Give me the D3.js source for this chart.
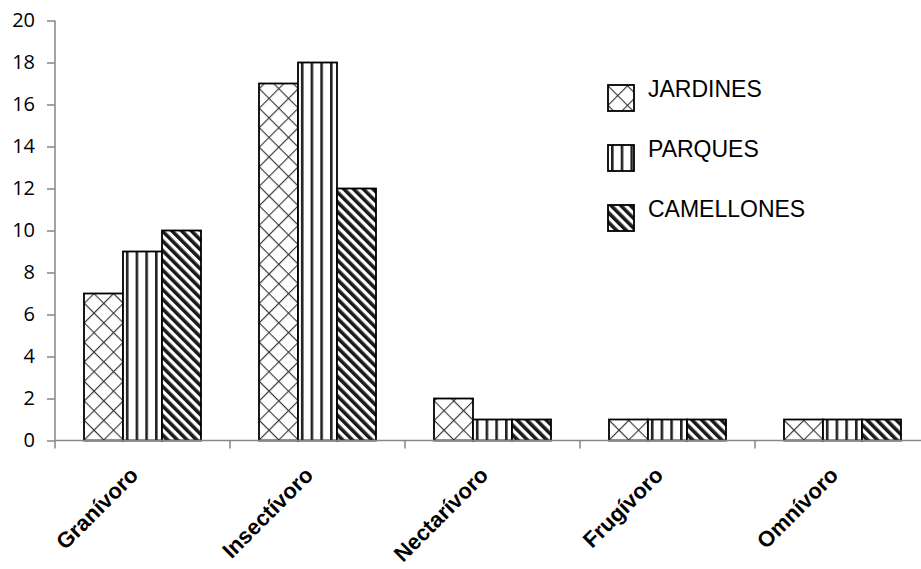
<!DOCTYPE html>
<html>
<head>
<meta charset="utf-8">
<script src="https://cdn.jsdelivr.net/npm/d3@7"></script>
<style>
  html, body { margin: 0; padding: 0; background: #fff; }
  svg { display: block; }
</style>
</head>
<body>
<svg id="chart" width="921" height="569"></svg>
<script>
// Feeding guilds of birds by urban habitat type
const categories = ["Granívoro", "Insectívoro", "Nectarívoro", "Frugívoro", "Omnívoro"];
const seriesNames = ["JARDINES", "PARQUES", "CAMELLONES"];
const jardines   = [7, 17, 2, 1, 1];
const parques    = [9, 18, 1, 1, 1];
const camellones = [10, 12, 1, 1, 1];
const yTicks = [0, 2, 4, 6, 8, 10, 12, 14, 16, 18, 20];

const seriesValues = [jardines, parques, camellones];
const patternIds = ["pat-cross", "pat-vert", "pat-diag"];

const svg = d3.select("#chart");
const defs = svg.append("defs");

// Diagonal crosshatch (diamonds)
const pc = defs.append("pattern")
  .attr("id", "pat-cross").attr("patternUnits", "userSpaceOnUse")
  .attr("width", 13.8).attr("height", 13.8)
  .attr("patternTransform", "rotate(45)");
pc.append("rect").attr("width", 13.8).attr("height", 13.8).attr("fill", "#fff");
pc.append("line").attr("x1", 0).attr("y1", 0).attr("x2", 13.8).attr("y2", 0)
  .attr("stroke", "#3a3a3a").attr("stroke-width", 2.3);
pc.append("line").attr("x1", 0).attr("y1", 0).attr("x2", 0).attr("y2", 13.8)
  .attr("stroke", "#3a3a3a").attr("stroke-width", 2.3);

// Narrow vertical lines
const pv = defs.append("pattern")
  .attr("id", "pat-vert").attr("patternUnits", "userSpaceOnUse")
  .attr("width", 9.7).attr("height", 10).attr("x", 3);
pv.append("rect").attr("width", 9.7).attr("height", 10).attr("fill", "#fff");
pv.append("rect").attr("x", 0).attr("width", 2.6).attr("height", 10).attr("fill", "#222");

// Dark downward diagonal stripes
const pd = defs.append("pattern")
  .attr("id", "pat-diag").attr("patternUnits", "userSpaceOnUse")
  .attr("width", 6.86).attr("height", 6.86)
  .attr("patternTransform", "rotate(-45)");
pd.append("rect").attr("width", 6.86).attr("height", 6.86).attr("fill", "#fff");
pd.append("rect").attr("width", 3.6).attr("height", 6.86).attr("fill", "#1a1a1a");

// Scales
const x0 = d3.scaleBand().domain(categories).range([55, 930]).paddingInner(0).paddingOuter(0);
const x1 = d3.scaleBand().domain(seriesNames).range([29, x0.bandwidth() - 29]).padding(0);
const y = d3.scaleLinear().domain([0, 20]).range([440.5, 20.5]);

const axisColor = "#868686";

// Y axis
const yAxis = svg.append("g").attr("transform", "translate(55,0)")
  .call(d3.axisLeft(y).tickValues(yTicks).tickSize(8).tickSizeOuter(0).tickPadding(12));
yAxis.select(".domain").remove();
yAxis.selectAll(".tick line").attr("stroke", axisColor).attr("stroke-width", 1.5);
yAxis.selectAll(".tick text")
  .attr("font-family", "'Open Sans', sans-serif").attr("font-size", 20)
  .attr("fill", "#000");
svg.append("line")
  .attr("x1", 55).attr("x2", 55).attr("y1", y(20)).attr("y2", y(0) + 8)
  .attr("stroke", axisColor).attr("stroke-width", 1.5);

// Bars
const groups = svg.append("g").selectAll("g")
  .data(categories).join("g")
  .attr("transform", d => `translate(${x0(d)},0)`);

groups.selectAll("rect")
  .data((c, ci) => seriesNames.map((s, si) => ({ s, si, v: seriesValues[si][ci] })))
  .join("rect")
  .attr("x", d => x1(d.s))
  .attr("y", d => y(d.v))
  .attr("width", x1.bandwidth())
  .attr("height", d => y(0) - y(d.v))
  .attr("fill", d => `url(#${patternIds[d.si]})`)
  .attr("stroke", "#000").attr("stroke-width", 1.8);

// X axis
svg.append("line")
  .attr("x1", 55).attr("x2", 921).attr("y1", y(0)).attr("y2", y(0))
  .attr("stroke", axisColor).attr("stroke-width", 1.5);
const bounds = categories.map(c => x0(c)).concat([x0.range()[1]]).slice(1);
svg.append("g").selectAll("line").data(bounds).join("line")
  .attr("x1", d => d).attr("x2", d => d)
  .attr("y1", y(0)).attr("y2", y(0) + 8)
  .attr("stroke", axisColor).attr("stroke-width", 1.5);

// Category labels, rotated
svg.append("g").selectAll("text").data(categories).join("text")
  .attr("transform", d => `translate(${x0(d) + x0.bandwidth() / 2 - 3},${y(0) + 36}) rotate(-45)`)
  .attr("text-anchor", "end")
  .attr("font-family", "'Liberation Sans', Arial, sans-serif")
  .attr("font-weight", "bold").attr("font-size", 22)
  .attr("fill", "#000")
  .text(d => d);

// Legend
const legend = svg.append("g").selectAll("g").data(seriesNames).join("g")
  .attr("transform", (d, i) => `translate(608,${85 + i * 60})`);
legend.append("rect")
  .attr("width", 26).attr("height", 26)
  .attr("fill", (d, i) => `url(#${patternIds[i]})`)
  .attr("stroke", "#000").attr("stroke-width", 1.8);
legend.append("text")
  .attr("x", 40).attr("y", 12)
  .attr("font-family", "'Liberation Sans', Arial, sans-serif")
  .attr("font-size", 23).attr("fill", "#000")
  .text(d => d);
</script>
</body>
</html>
